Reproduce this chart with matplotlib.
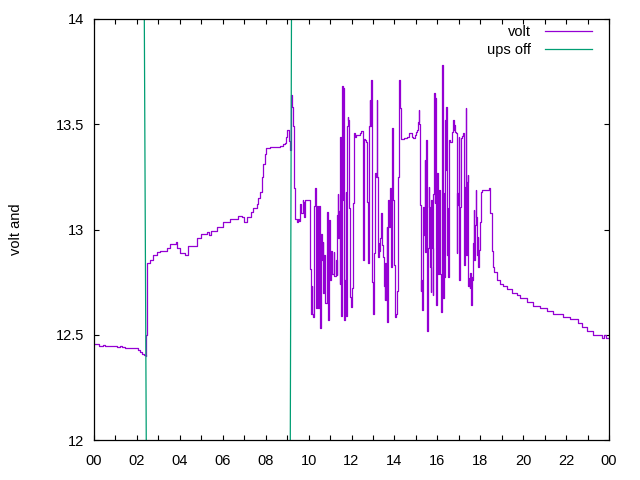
import numpy as np
import matplotlib
matplotlib.use("Agg")
import matplotlib.pyplot as plt

# voltage log, hours since midnight
hours = [
    0.00, 0.20, 0.25, 0.40, 0.50, 0.80, 1.05, 1.20, 1.30, 1.45, 1.95, 2.05, 2.15, 2.25, 2.32, 2.40,
    2.41, 2.45, 2.48, 2.61, 2.76, 2.92, 3.08, 3.39, 3.54, 3.82, 3.88, 4.00, 4.24, 4.39, 4.78, 5.00,
    5.25, 5.35, 5.45, 5.72, 6.03, 6.34, 6.73, 6.90, 6.99, 7.11, 7.30, 7.42, 7.58, 7.66, 7.74, 7.82,
    7.89, 7.95, 8.01, 8.20, 8.40, 8.67, 8.80, 8.90, 8.96, 9.01, 9.05, 9.10, 9.13, 9.16, 9.19, 9.24,
    9.27, 9.34, 9.37, 9.45, 9.50, 9.56, 9.60, 9.66, 9.72, 9.75, 9.80, 9.84, 10.03, 10.05,
    10.08, 10.11, 10.14, 10.17, 10.20, 10.23, 10.27, 10.31, 10.34, 10.38, 10.42, 10.45, 10.50, 10.53,
    10.55, 10.59, 10.62, 10.66, 10.69, 10.73, 10.78, 10.84, 10.89, 10.94, 10.97, 11.01, 11.06, 11.10,
    11.17, 11.20, 11.26, 11.31, 11.33, 11.36, 11.38, 11.42, 11.45, 11.48, 11.51, 11.56, 11.59, 11.62,
    11.65, 11.70, 11.73, 11.76, 11.79, 11.82, 11.85, 11.88, 11.92, 11.94, 11.99, 12.02, 12.05, 12.10,
    12.15, 12.20, 12.30, 12.40, 12.45, 12.49, 12.52, 12.55, 12.58, 12.63, 12.67, 12.71, 12.74, 12.77,
    12.80, 12.85, 12.88, 12.91, 12.94, 12.97, 13.02, 13.06, 13.11, 13.14, 13.17, 13.20, 13.23, 13.27,
    13.30, 13.33, 13.36, 13.41, 13.45, 13.50, 13.55, 13.57, 13.61, 13.64, 13.67, 13.70, 13.73, 13.76,
    13.79, 13.83, 13.86, 13.89, 13.92, 13.95, 13.98, 14.01, 14.04, 14.07, 14.10, 14.13, 14.17, 14.20,
    14.23, 14.26, 14.29, 14.37, 14.45, 14.52, 14.60, 14.68, 14.76, 14.80, 14.88, 14.96, 15.00, 15.05,
    15.08, 15.13, 15.16, 15.19, 15.22, 15.25, 15.28, 15.32, 15.35, 15.38, 15.41, 15.44, 15.47, 15.50,
    15.53, 15.56, 15.59, 15.62, 15.66, 15.69, 15.72, 15.75, 15.78, 15.81, 15.84, 15.88, 15.90, 15.94,
    15.97, 16.00, 16.03, 16.06, 16.09, 16.12, 16.16, 16.18, 16.22, 16.23, 16.26, 16.29, 16.33, 16.36,
    16.39, 16.42, 16.45, 16.48, 16.51, 16.54, 16.58, 16.62, 16.67, 16.70, 16.73, 16.76, 16.79, 16.82,
    16.87, 16.90, 16.93, 16.96, 16.99, 17.02, 17.05, 17.09, 17.13, 17.16, 17.19, 17.22, 17.25, 17.29,
    17.32, 17.35, 17.38, 17.41, 17.44, 17.47, 17.50, 17.53, 17.57, 17.60, 17.63, 17.66, 17.69, 17.72,
    17.75, 17.78, 17.81, 17.85, 17.88, 17.91, 17.94, 17.97, 18.00, 18.05, 18.07, 18.37, 18.40, 18.45,
    18.47, 18.53, 18.58, 18.64, 18.76, 18.92, 19.07, 19.23, 19.46, 19.70, 19.85, 20.16, 20.47, 20.78,
    21.10, 21.40, 21.70, 21.87, 22.18, 22.41, 22.57, 22.73, 22.96, 23.27, 23.58, 23.66, 23.77, 23.86,
    24.00,
]
volts = [
    12.456, 12.456, 12.447, 12.452, 12.445, 12.445, 12.440, 12.445, 12.440, 12.435, 12.435, 12.428, 12.420, 12.410, 12.404, 12.400,
    12.500, 12.610, 12.840, 12.855, 12.880, 12.895, 12.900, 12.910, 12.930, 12.940, 12.910, 12.887, 12.880, 12.920, 12.960, 12.980,
    12.990, 12.975, 12.995, 13.010, 13.034, 13.050, 13.064, 13.060, 13.037, 13.060, 13.085, 13.100, 13.120, 13.150, 13.180, 13.250,
    13.310, 13.360, 13.386, 13.393, 13.390, 13.397, 13.405, 13.410, 13.440, 13.473, 13.473, 13.420, 13.380, 13.500, 13.640, 13.580,
    13.490, 13.196, 13.050, 13.034, 13.050, 13.040, 13.120, 13.080, 13.140, 13.130, 13.060, 13.140, 13.140, 13.080,
    12.810, 12.600, 12.730, 12.600, 12.585, 12.840, 13.110, 13.196, 12.625, 13.110, 12.840, 12.625, 13.110, 12.820,
    12.530, 12.980, 12.855, 12.940, 12.700, 12.880, 12.650, 13.085, 12.570, 12.855, 13.045, 12.760, 12.900, 12.790,
    12.895, 12.780, 12.855, 12.785, 13.070, 13.170, 12.958, 13.090, 12.740, 13.440, 12.590, 13.680, 13.140, 13.670,
    12.570, 12.760, 13.180, 12.590, 13.490, 13.535, 13.520, 13.100, 13.090, 12.680, 12.630, 12.720, 13.124, 13.457,
    13.440, 13.450, 13.450, 13.460, 13.470, 13.470, 13.164, 12.855, 13.430, 13.425, 13.417, 13.140, 13.130, 12.840,
    13.490, 13.615, 13.490, 13.710, 13.310, 12.750, 12.600, 12.887, 13.267, 13.250, 13.615, 13.250, 12.870, 12.934,
    12.900, 12.960, 13.077, 12.926, 12.870, 12.730, 12.665, 12.840, 12.665, 13.010, 12.560, 13.140, 13.060, 13.010,
    13.196, 13.005, 12.820, 13.480, 13.260, 13.140, 12.830, 12.600, 12.585, 12.600, 12.710, 12.710, 13.250, 13.440,
    13.710, 13.576, 13.430, 13.428, 13.436, 13.437, 13.440, 13.457, 13.457, 13.440, 13.437, 13.449, 13.465, 13.473,
    13.510, 13.570, 13.500, 13.116, 12.710, 12.760, 12.617, 12.974, 13.108, 12.974, 13.330, 12.894, 13.425, 12.760,
    12.520, 12.910, 13.200, 13.108, 12.823, 12.705, 13.140, 12.910, 12.690, 13.170, 13.647, 13.124, 13.623, 12.640,
    12.980, 13.267, 12.790, 13.029, 13.187, 12.790, 12.673, 12.610, 13.187, 13.780, 12.673, 13.172, 12.776, 13.520,
    13.282, 13.583, 12.879, 13.100, 12.776, 13.425, 13.417, 13.417, 13.417, 13.465, 13.520, 13.472, 13.496, 13.465,
    13.457, 12.887, 13.172, 13.116, 13.441, 12.760, 13.108, 13.433, 13.438, 13.444, 13.457, 13.148, 12.830, 13.203,
    13.576, 12.879, 13.227, 13.259, 12.730, 12.768, 12.720, 12.792, 12.640, 12.776, 12.760, 12.934, 13.092, 12.855,
    13.021, 13.190, 13.061, 12.879, 12.966, 12.823, 12.902, 12.942, 13.037, 13.180, 13.188, 13.188, 13.196, 13.188,
    13.077, 12.900, 12.823, 12.800, 12.760, 12.740, 12.730, 12.716, 12.700, 12.690, 12.676, 12.654, 12.637, 12.626,
    12.614, 12.597, 12.597, 12.583, 12.573, 12.573, 12.554, 12.538, 12.518, 12.500, 12.500, 12.483, 12.500, 12.483,
    12.483,
]

# ups off marker (drops off the bottom during the outage)
ups_hours = [2.30, 2.48, 9.12, 9.23]
ups_vals = [15.0, 11.0, 11.0, 15.0]

xtick_pos = list(range(0, 25, 2))
xtick_labels = ["%02d" % (h % 24) for h in xtick_pos]

plt.rcParams["font.family"] = ["Liberation Sans", "DejaVu Sans"]

fig = plt.figure(figsize=(6.4, 4.8), dpi=100)
ax = fig.add_axes([94 / 640, 40 / 480, 515 / 640, 421 / 480])

ax.plot(hours, volts, color="#9400D3", lw=0.9, drawstyle="steps-post", label="volt")
ax.plot(ups_hours, ups_vals, color="#009E73", lw=0.9, label="ups off")

ax.set_xlim(0, 24)
ax.set_ylim(12, 14)
ax.set_xticks(xtick_pos)
ax.set_xticklabels(xtick_labels)
ax.set_xticks(range(1, 24, 2), minor=True)
ax.set_yticks([12, 12.5, 13, 13.5, 14])
ax.set_yticklabels(["12", "12.5", "13", "13.5", "14"])
ax.tick_params(which="both", direction="in", top=True, right=True, length=3.5, width=0.8,
               labelsize=10.5)
ax.tick_params(axis="x", pad=10)
ax.tick_params(axis="y", pad=7)
for s in ax.spines.values():
    s.set_linewidth(0.9)

ax.set_ylabel("volt and", fontsize=10.5, labelpad=24)

ax.legend(loc="upper right", bbox_to_anchor=(592 / 640, 1 - 25 / 480),
          bbox_transform=fig.transFigure, frameon=False, markerfirst=False,
          fontsize=10.5, handlelength=3.2, handletextpad=1.0, labelspacing=0.25,
          borderpad=0, borderaxespad=0)

fig.savefig("out.png", dpi=100)
